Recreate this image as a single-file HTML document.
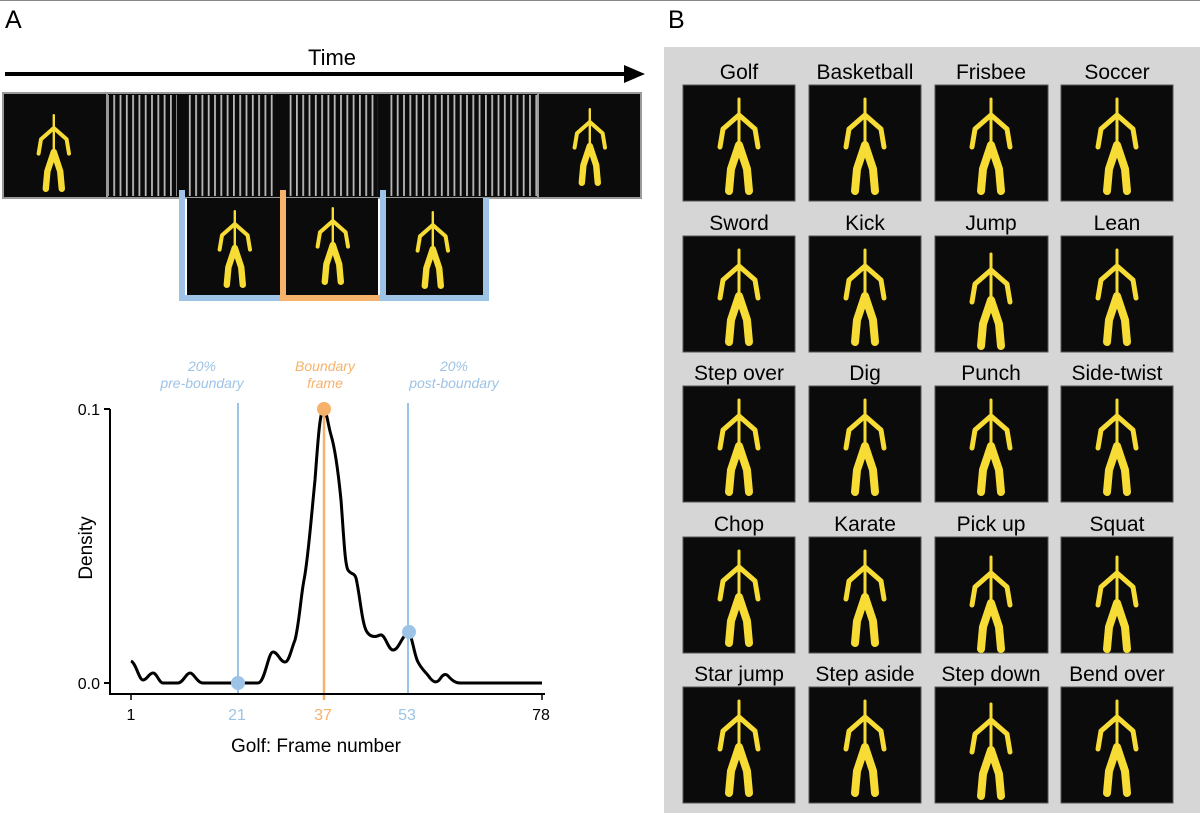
<!DOCTYPE html>
<html><head><meta charset="utf-8"><style>
html,body{margin:0;padding:0;background:#fff}
svg{display:block}
text{font-family:"Liberation Sans",Arial,sans-serif}
</style></head><body>
<svg width="1200" height="813" viewBox="0 0 1200 813" xmlns="http://www.w3.org/2000/svg">
<defs>
<pattern id="stripes" x="107" y="0" width="6.3" height="10" patternUnits="userSpaceOnUse">
<rect width="6.3" height="10" fill="#0b0b0b"/><rect x="0" width="1.8" height="10" fill="#b8b8b8"/>
</pattern>
<g id="fig" fill="none" stroke="#f6dc35" stroke-linecap="round" stroke-linejoin="round">
<path d="M56 14 L56 60" stroke-width="3"/>
<path d="M56 30 L40 44 L37 62 M56 30 L72 44 L75 62" stroke-width="5"/>
<path d="M56 60 L48 84 L46 106 M56 60 L64 84 L66 106" stroke-width="8"/>
</g>
</defs>
<line x1="0" y1="0.5" x2="1200" y2="0.5" stroke="#888" stroke-width="1"/>
<text x="5" y="28" font-size="25">A</text>
<text x="668" y="28" font-size="25">B</text>
<text x="332" y="65" font-size="22" text-anchor="middle">Time</text>
<line x1="5" y1="74" x2="628" y2="74" stroke="#000" stroke-width="4"/>
<polygon points="624,65 645,74 624,83" fill="#000"/>
<rect x="3" y="93" width="638" height="105" fill="#0b0b0b" stroke="#9a9a9a" stroke-width="2"/>
<rect x="107" y="95" width="431" height="101" fill="url(#stripes)"/>
<rect x="177" y="95" width="11" height="101" fill="#0b0b0b"/>
<rect x="277" y="95" width="12" height="101" fill="#0b0b0b"/>
<rect x="378" y="95" width="10" height="101" fill="#0b0b0b"/>
<line x1="107" y1="94" x2="107" y2="197" stroke="#9a9a9a" stroke-width="2"/>
<line x1="538" y1="94" x2="538" y2="197" stroke="#9a9a9a" stroke-width="2"/>
<use href="#fig" transform="translate(9,104) scale(0.8)"/>
<use href="#fig" transform="translate(545,98) scale(0.8)"/>
<rect x="187" y="198" width="93" height="97" fill="#0b0b0b"/>
<rect x="286" y="198" width="92" height="97" fill="#0b0b0b"/>
<rect x="386" y="198" width="97" height="97" fill="#0b0b0b"/>
<use href="#fig" transform="translate(190,200) scale(0.8)"/>
<use href="#fig" transform="translate(288,197) scale(0.8)"/>
<use href="#fig" transform="translate(388,201) scale(0.8)"/>
<path d="M182 190 L182 298 L281 298" fill="none" stroke="#9dc3e6" stroke-width="6"/>
<path d="M283 190 L283 298 L381 298" fill="none" stroke="#f6b26b" stroke-width="6"/>
<path d="M383 190 L383 298 L486 298 L486 198" fill="none" stroke="#9dc3e6" stroke-width="6"/>
<g font-style="italic" font-size="14" text-anchor="middle">
<text x="202" y="371" fill="#9dc3e6">20%</text>
<text x="202" y="388" fill="#9dc3e6">pre-boundary</text>
<text x="325" y="371" fill="#f6b26b">Boundary</text>
<text x="325" y="388" fill="#f6b26b">frame</text>
<text x="454" y="371" fill="#9dc3e6">20%</text>
<text x="454" y="388" fill="#9dc3e6">post-boundary</text>
</g>
<line x1="238" y1="403" x2="238" y2="694" stroke="#9dc3e6" stroke-width="2"/>
<line x1="408" y1="403" x2="408" y2="694" stroke="#9dc3e6" stroke-width="2"/>
<line x1="324" y1="409" x2="324" y2="700" stroke="#f6b26b" stroke-width="2.5"/>
<path d="M110 409 L110 694 L545 694" fill="none" stroke="#000" stroke-width="2"/>
<line x1="104" y1="409" x2="110" y2="409" stroke="#000" stroke-width="2"/>
<line x1="104" y1="683" x2="110" y2="683" stroke="#000" stroke-width="2"/>
<g stroke="#000" stroke-width="1.5"><line x1="131" y1="694" x2="131" y2="700"/><line x1="542" y1="694" x2="542" y2="700"/></g>
<text x="100" y="415" font-size="16" text-anchor="end">0.1</text>
<text x="100" y="689" font-size="16" text-anchor="end">0.0</text>
<text x="131" y="720" font-size="16" text-anchor="middle">1</text>
<text x="237" y="720" font-size="16" text-anchor="middle" fill="#9dc3e6">21</text>
<text x="323" y="720" font-size="16" text-anchor="middle" fill="#f6b26b">37</text>
<text x="407" y="720" font-size="16" text-anchor="middle" fill="#9dc3e6">53</text>
<text x="541" y="720" font-size="16" text-anchor="middle">78</text>
<text x="316" y="752" font-size="19" text-anchor="middle">Golf: Frame number</text>
<text transform="translate(92,548) rotate(-90)" font-size="19" text-anchor="middle">Density</text>
<path d="M131 661 C136 663 139 680 143 680 C147 680 149 673 153 673 C157 673 159 683 163 683 L178 683 C183 683 186 673 190 673 C194 673 197 683 203 683 L258 683 C265 683 268 652 273 652 C278 652 280 662 285 662 C289 662 291 650 295 640 C299 625 301 595 304 580 C308 560 311 520 315 480 C318 440 320 408 324 410 C327 412 328 425 331 435 C335 448 338 470 341 500 C344 540 345 565 348 570 C351 575 354 572 356 578 C360 595 362 625 367 632 C371 638 376 637 380 635 C385 633 388 650 393 650 C399 650 402 635 408 633 C412 633 414 655 418 662 C422 670 426 672 430 678 C434 683 437 683 440 679 C443 674 446 673 449 677 C452 680 455 683 460 683 L542 683" fill="none" stroke="#000" stroke-width="3"/>
<circle cx="324" cy="409" r="7" fill="#f6b26b"/>
<circle cx="238" cy="683" r="7" fill="#9dc3e6"/>
<circle cx="409" cy="632" r="7" fill="#9dc3e6"/>
<rect x="664" y="47" width="536" height="766" fill="#d6d6d6"/>
<g font-size="21" text-anchor="middle">
<text x="739" y="79">Golf</text><text x="865" y="79">Basketball</text><text x="991" y="79">Frisbee</text><text x="1117" y="79">Soccer</text>
<text x="739" y="230">Sword</text><text x="865" y="230">Kick</text><text x="991" y="230">Jump</text><text x="1117" y="230">Lean</text>
<text x="739" y="380">Step over</text><text x="865" y="380">Dig</text><text x="991" y="380">Punch</text><text x="1117" y="380">Side-twist</text>
<text x="739" y="531">Chop</text><text x="865" y="531">Karate</text><text x="991" y="531">Pick up</text><text x="1117" y="531">Squat</text>
<text x="739" y="681">Star jump</text><text x="865" y="681">Step aside</text><text x="991" y="681">Step down</text><text x="1117" y="681">Bend over</text>
</g>
<g fill="#0b0b0b" stroke="#555" stroke-width="1">
<rect x="683" y="85" width="112" height="116"/><rect x="809" y="85" width="112" height="116"/><rect x="935" y="85" width="113" height="116"/><rect x="1061" y="85" width="112" height="116"/>
<rect x="683" y="236" width="112" height="116"/><rect x="809" y="236" width="112" height="116"/><rect x="935" y="236" width="113" height="116"/><rect x="1061" y="236" width="112" height="116"/>
<rect x="683" y="386" width="112" height="116"/><rect x="809" y="386" width="112" height="116"/><rect x="935" y="386" width="113" height="116"/><rect x="1061" y="386" width="112" height="116"/>
<rect x="683" y="537" width="112" height="116"/><rect x="809" y="537" width="112" height="116"/><rect x="935" y="537" width="113" height="116"/><rect x="1061" y="537" width="112" height="116"/>
<rect x="683" y="687" width="112" height="116"/><rect x="809" y="687" width="112" height="116"/><rect x="935" y="687" width="113" height="116"/><rect x="1061" y="687" width="112" height="116"/>
</g>
<use href="#fig" x="683" y="85"/><use href="#fig" x="809" y="85"/><use href="#fig" x="935" y="85"/><use href="#fig" x="1061" y="85"/>
<use href="#fig" x="683" y="236"/><use href="#fig" x="809" y="236"/><use href="#fig" x="935" y="240"/><use href="#fig" x="1061" y="236"/>
<use href="#fig" x="683" y="386"/><use href="#fig" x="809" y="386"/><use href="#fig" x="935" y="386"/><use href="#fig" x="1061" y="386"/>
<use href="#fig" x="683" y="537"/><use href="#fig" x="809" y="537"/><use href="#fig" x="935" y="543"/><use href="#fig" x="1061" y="543"/>
<use href="#fig" x="683" y="687"/><use href="#fig" x="809" y="687"/><use href="#fig" x="935" y="690"/><use href="#fig" x="1061" y="687"/>
</svg>
</body></html>
